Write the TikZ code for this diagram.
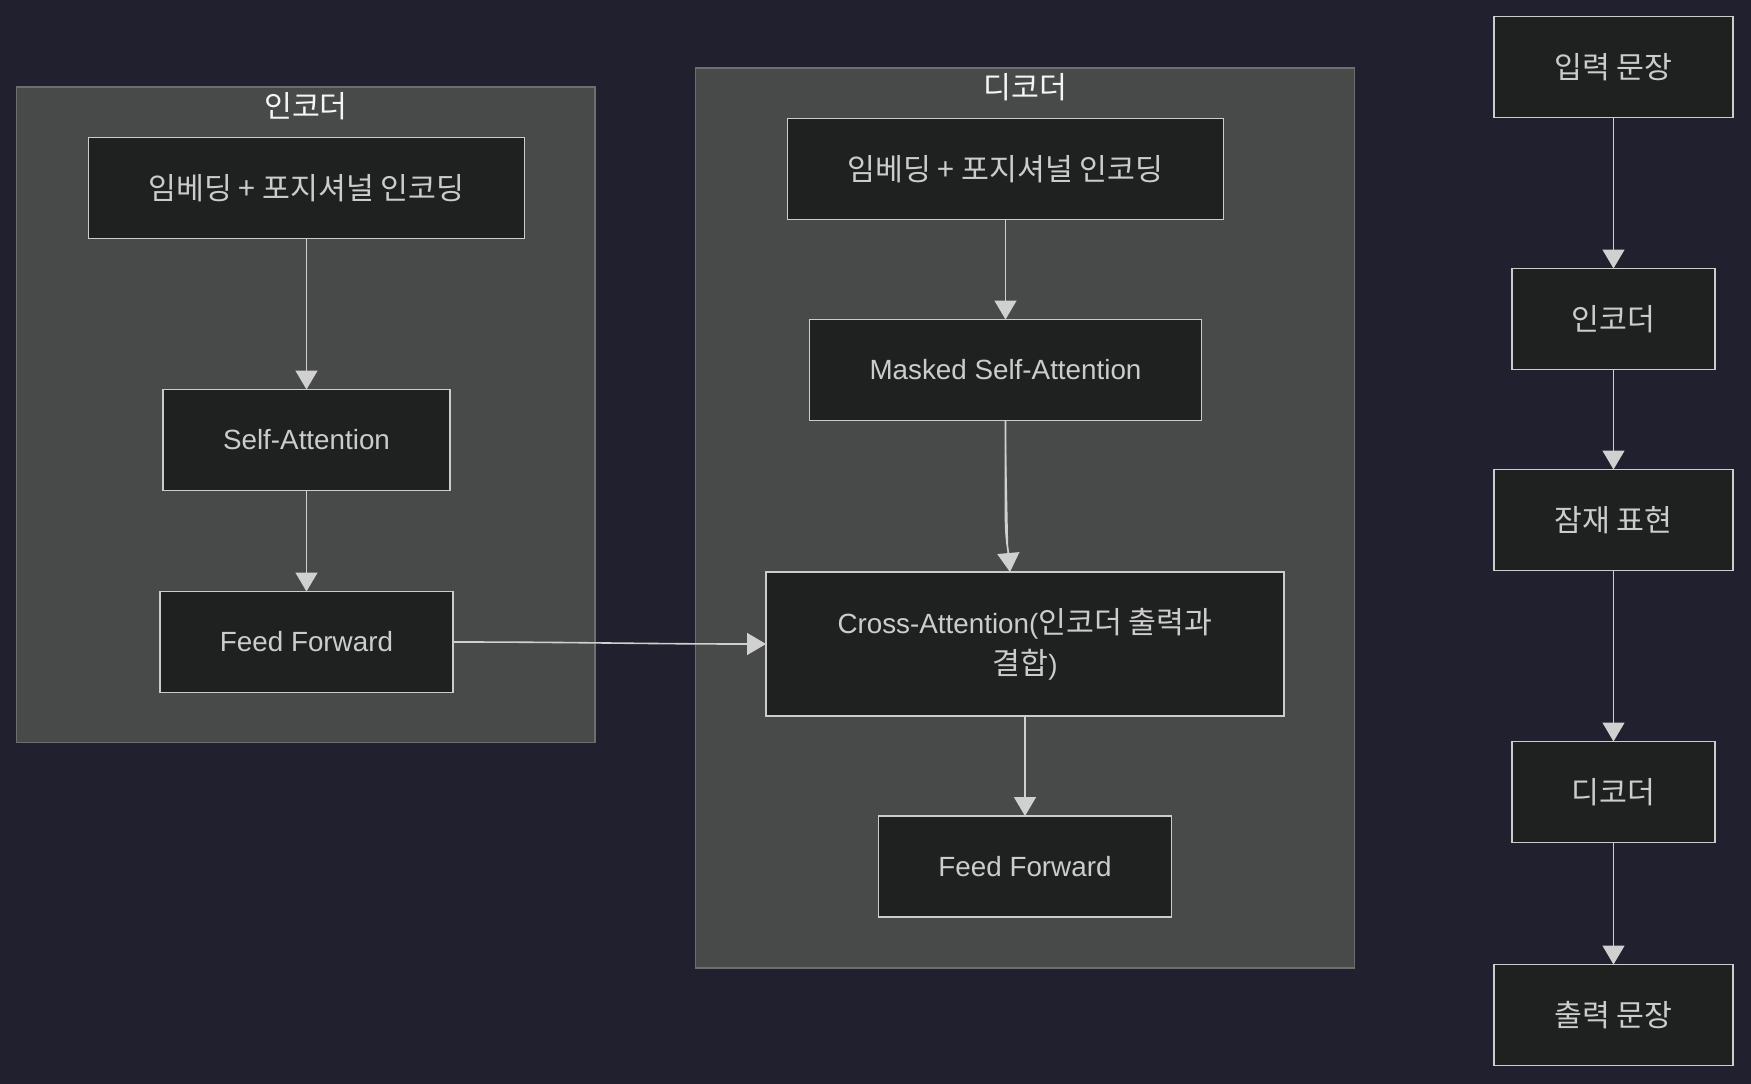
\documentclass[tikz,border=0pt]{standalone}
\usepackage{fontspec}
\setmainfont{Liberation Sans}
\newfontfamily\krfont[Scale=1.09]{Noto Sans CJK KR}
\usetikzlibrary{arrows.meta,positioning}

\definecolor{bgcol}{HTML}{21202E}
\definecolor{clusterfill}{HTML}{484A49}
\definecolor{clusterline}{HTML}{6E6E6E}
\definecolor{boxfill}{HTML}{1F2120}
\definecolor{boxline}{HTML}{CCCCCC}
\definecolor{boxtext}{HTML}{CCCCCC}
\definecolor{flowcol}{HTML}{D0D0D0}

\newcommand{\kr}[1]{{\krfont #1}}

\begin{document}
\begin{tikzpicture}[>={Triangle[width=22pt,length=19pt]},font=\fontsize{27.8pt}{41pt}\selectfont]

    % Define node styles
    \tikzstyle{block} = [draw=boxline, line width=1.8pt, fill=boxfill, text=boxtext, rectangle, inner xsep=60pt, outer sep=0pt, minimum height=101pt, text centered]
    \tikzstyle{cluster} = [draw=clusterline, line width=1.5pt, fill=clusterfill, rectangle, inner sep=0pt]
    \tikzstyle{title} = [text=white!92!gray, inner sep=0pt]
    \tikzstyle{flow} = [->, draw=flowcol, line width=1.6pt, fill=flowcol]

    % Background
    \fill [bgcol] (0pt,0pt) rectangle (1751pt,-1084pt);
    \useasboundingbox (0pt,0pt) rectangle (1751pt,-1084pt);

    % Draw clusters
    \node [cluster, minimum width=578.5pt, minimum height=655.6pt] (encbox) at (305.95pt,-414.8pt) {};
    \node [title] (enctitle) at ([yshift=-20pt]encbox.north) {\kr{인코더}};
    \node [cluster, minimum width=658.9pt, minimum height=900pt] (decbox) at (1025.15pt,-518pt) {};
    \node [title] (dectitle) at ([yshift=-20pt]decbox.north) {\kr{디코더}};

    % Draw encoder nodes
    \node [block] (encemb) at (306.5pt,-188pt) {\kr{임베딩 + 포지셔널 인코딩}};
    \node [block, below=151pt of encemb] (encsa) {Self-Attention};
    \node [block, below=101pt of encsa] (encff) {Feed Forward};

    % Draw decoder nodes
    \node [block] (decemb) at (1005.5pt,-169pt) {\kr{임베딩 + 포지셔널 인코딩}};
    \node [block, below=100pt of decemb] (decmsa) {Masked Self-Attention};
    \node [block, minimum width=518pt, minimum height=144pt, align=center] (deccross) at (1025pt,-644pt) {Cross-Attention(\kr{인코더 출력과}\\\kr{결합})};
    \node [block, below=100pt of deccross] (decff) {Feed Forward};

    % Draw overview nodes
    \node [block] (input) at (1613.5pt,-67pt) {\kr{입력 문장}};
    \node [block, below=151pt of input] (encoder) {\kr{인코더}};
    \node [block, below=100pt of encoder] (latent) {\kr{잠재 표현}};
    \node [block, below=171pt of latent] (decoder) {\kr{디코더}};
    \node [block, below=122pt of decoder] (output) {\kr{출력 문장}};

    % Draw arrows
    \draw [flow] (encemb) -- (encsa);
    \draw [flow] (encsa) -- (encff);
    \draw [flow] (encff.east) to[out=0,in=180] (deccross.west);
    \draw [flow] (decemb) -- (decmsa);
    \draw [flow] (decmsa.south) -- ++(0,-97pt) to[out=-90,in=95] ([xshift=-15pt]deccross.north);
    \draw [flow] (deccross) -- (decff);
    \draw [flow] (input) -- (encoder);
    \draw [flow] (encoder) -- (latent);
    \draw [flow] (latent) -- (decoder);
    \draw [flow] (decoder) -- (output);

\end{tikzpicture}
\end{document}
